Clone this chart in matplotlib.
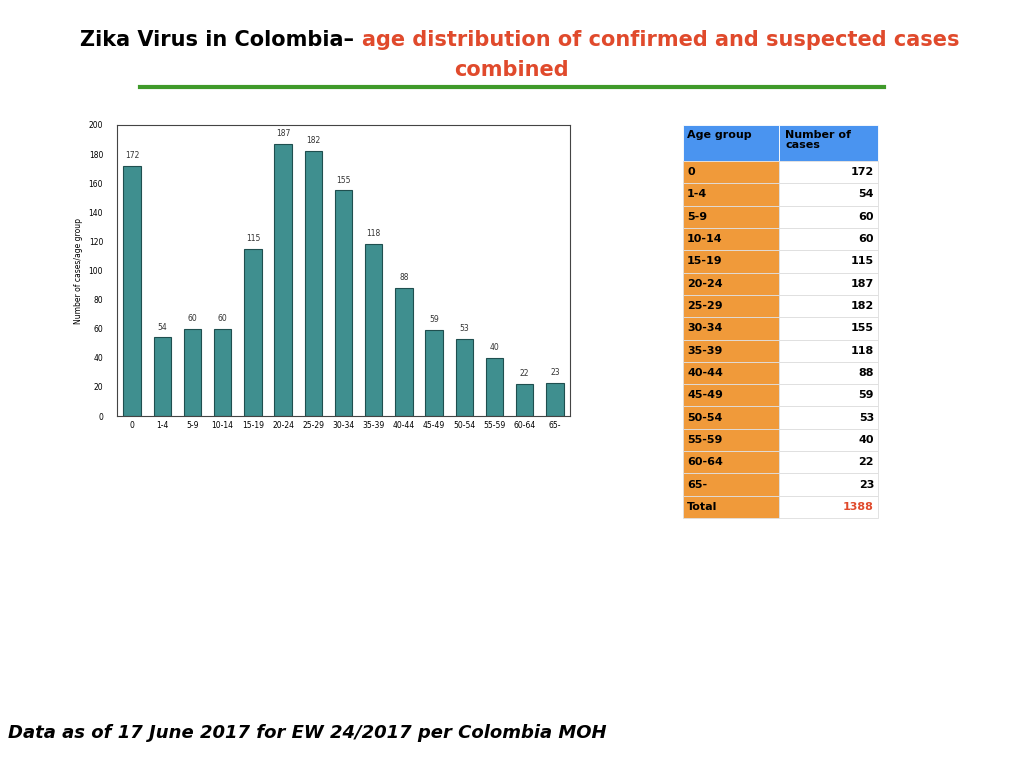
import matplotlib
matplotlib.use("Agg")
import matplotlib.pyplot as plt
from matplotlib.patches import Rectangle

groups = ["0","1-4","5-9","10-14","15-19","20-24","25-29","30-34","35-39","40-44","45-49","50-54","55-59","60-64","65-"]
cases = [172,54,60,60,115,187,182,155,118,88,59,53,40,22,23]
total = 1388

fig = plt.figure(figsize=(10.24,7.68), dpi=100)
W, H = 1024, 768
def fx(x): return x/W
def fy(y): return 1-y/H

fig.text(fx(80), fy(40), "Zika Virus in Colombia– ", fontsize=15, fontweight="bold", color="black", va="center", ha="left")
fig.text(fx(362), fy(40), "age distribution of confirmed and suspected cases", fontsize=15, fontweight="bold", color="#e04a2c", va="center", ha="left")
fig.text(fx(511), fy(70), "combined", fontsize=15, fontweight="bold", color="#e04a2c", va="center", ha="center")
fig.add_artist(plt.Line2D([fx(140), fx(884)], [fy(87), fy(87)], color="#3f9a2a", lw=3))

ax = fig.add_axes([fx(117), fy(416), (570-117)/W, (416-125)/H])
x = range(len(groups))
bars = ax.bar(x, cases, width=0.58, color="#3f8f8f", edgecolor="#1f4f4f", lw=0.8)
for xi, v in zip(x, cases):
    ax.text(xi, v+4, str(v), ha="center", va="bottom", fontsize=5.5, color="#333")
ax.set_xticks(list(x))
ax.set_xticklabels(groups, fontsize=5.5)
ax.set_ylim(0, 200)
ax.set_xlim(-0.5, len(groups)-0.5)
ax.set_yticks(range(0, 201, 20))
ax.tick_params(axis="y", labelsize=5.5, length=0, pad=10)
ax.tick_params(axis="x", length=0)
ax.set_ylabel("Number of cases/age group", fontsize=5.5)
for s in ax.spines.values():
    s.set_color("#444"); s.set_linewidth(0.8)

# table
x0, x1, x2 = 683, 779, 878
def rect(xa, ya, xb, yb, fc, ec="#cccccc"):
    fig.add_artist(Rectangle((fx(xa), fy(yb)), (xb-xa)/W, (yb-ya)/H, facecolor=fc, edgecolor=ec, lw=0.6, transform=fig.transFigure))
rect(x0, 125, x1, 161, "#4a94f0", "white")
rect(x1, 125, x2, 161, "#4a94f0", "white")
fig.text(fx(x0+4), fy(130), "Age group", fontsize=8, fontweight="bold", va="top")
fig.text(fx(x1+6), fy(130), "Number of\ncases", fontsize=8, fontweight="bold", va="top", linespacing=1.0)
rh = (518-161)/16
labels = groups + ["Total"]
vals = [str(v) for v in cases] + [str(total)]
for i, (lab, val) in enumerate(zip(labels, vals)):
    ya = 161 + i*rh; yb = ya + rh
    rect(x0, ya, x1, yb, "#f09a3a", "#e0e0e0")
    rect(x1, ya, x2, yb, "white", "#dddddd")
    fig.text(fx(x0+4), fy(ya+rh/2), lab, fontsize=8, fontweight="bold", va="center")
    fig.text(fx(x2-4), fy(ya+rh/2), val, fontsize=8, fontweight="bold", va="center", ha="right",
             color="#e04a2c" if lab == "Total" else "black")

fig.text(fx(8), fy(733), "Data as of 17 June 2017 for EW 24/2017 per Colombia MOH", fontsize=13, fontweight="bold", style="italic", va="center")
fig.savefig("out.png", dpi=100)
